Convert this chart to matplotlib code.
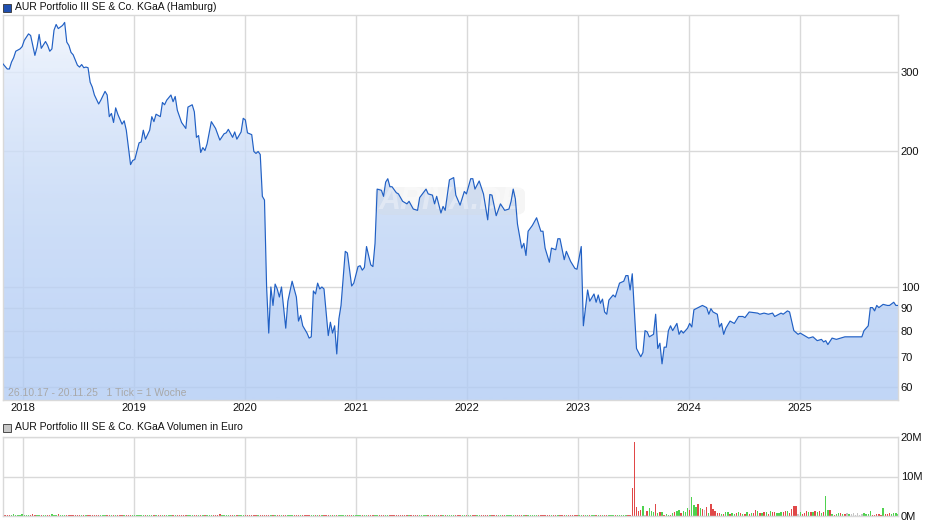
import numpy as np
import pandas as pd
import matplotlib
matplotlib.use('Agg')
import matplotlib.pyplot as plt
import matplotlib.dates as mdates
from matplotlib.patches import Rectangle, Polygon, FancyBboxPatch
from matplotlib.ticker import FixedLocator, NullLocator

plt.rcParams['font.family'] = ['Liberation Sans', 'DejaVu Sans']

start = pd.Timestamp('2017-10-26')
end = pd.Timestamp('2025-11-20')

# Kurs (Wochen seit 26.10.17, Euro)
weeks = [0, 2, 3, 4, 5, 6, 8, 9, 10, 12, 13, 15, 16, 17, 18, 20, 21, 22, 23, 24, 25, 26, 28, 29, 30,
         31, 32, 33, 35, 36, 37, 38, 39, 40, 41, 42, 43, 45, 46, 48, 49, 50, 51, 52, 53, 54, 55, 56,
         57, 58, 60, 61, 62, 64, 65, 66, 67, 69,
         70, 71, 72, 74, 75, 76, 77, 79, 80, 81, 82, 84, 86, 87, 89, 90, 91, 92, 93, 94, 95, 96, 98,
         100, 102, 104, 105, 106, 108, 109, 110, 112, 113, 114, 115, 117, 118, 119, 120, 121, 122,
         123, 124, 125, 126, 127, 128, 129, 130, 131, 133, 134, 136, 138, 139,
         140, 141, 143, 144, 145, 146, 147, 148, 149, 150, 151, 153, 154, 155, 156, 157, 158, 159,
         161, 162, 164, 165, 167, 168, 169, 170, 171, 173, 174, 175, 176, 178, 179, 180, 181, 182,
         183, 185, 186, 188, 190, 191, 193, 195, 196, 199, 200, 202, 203, 204, 206, 207, 208,
         210, 212, 213, 215, 217, 218, 220, 221, 222, 224, 226, 228, 229, 230, 232, 234, 236, 238,
         239, 240, 241, 242, 244, 245, 246, 247, 249, 251, 253, 254, 255, 257, 258, 260, 261, 262,
         264, 265, 267, 269, 270, 272, 273, 275, 276, 278, 279, 280,
         281, 282, 283, 284, 285, 287, 288, 290, 292, 293, 294, 295, 296, 298, 300, 301, 302, 303,
         304, 306, 307, 308, 309, 310, 311, 312, 313, 314, 315, 317, 318, 319, 320, 322, 323, 324,
         325, 327, 329, 331, 332, 333, 334, 336, 337, 338, 339, 340, 342, 344, 346, 348, 349, 351,
         355, 356, 358, 360, 362, 363, 366, 367, 369, 370, 372, 374, 375, 377, 379, 381, 383, 385,
         386, 387, 388, 390, 392, 394, 396, 398, 401, 404, 405, 407, 408, 409, 410, 411, 412, 414,
         416, 417, 419, 420, 421]
prices = [313, 305, 305, 316, 323, 334, 338, 342, 353, 365, 362, 327, 341, 364, 339, 351, 344, 334, 338, 372, 383, 375, 381, 387, 350,
          344, 332, 328, 311, 308, 312, 307, 308, 307, 285, 278, 267, 255, 260, 272, 267, 239, 243, 232, 250, 242, 236, 230,
          234, 223, 187, 191, 192, 209, 210, 223, 213, 223,
          239, 233, 242, 239, 257, 254, 260, 267, 258, 265, 247, 232, 225, 251, 254, 245, 215, 217, 199, 204, 201, 208, 233,
          225, 212, 219, 220, 224, 215, 221, 213, 221, 237, 235, 220, 218, 200, 198, 200, 197, 159,
          156, 100, 79, 100, 91, 101.5, 99, 95, 100, 81, 93, 103, 95, 84,
          86.5, 82, 79, 77, 77.5, 98, 96.5, 102, 99, 100, 99, 78, 83.5, 79, 82, 71, 85, 91,
          120, 119, 100.5, 102, 111, 111.5, 109, 110.5, 123, 112, 111, 125, 165, 164, 159, 171, 174, 167,
          167, 162, 161, 155, 153, 155, 149, 148, 158, 165, 161, 160, 153, 159, 146, 151, 148,
          173, 175, 160, 152, 163, 161, 174, 174, 165, 172, 161, 141, 160.5, 160, 144, 153, 148, 149,
          155, 165, 157, 138, 122, 125, 117.5, 133, 137, 142.5, 133, 133, 122, 113.5, 122, 121, 128, 128,
          115, 120, 114, 110, 109.5, 123, 82, 98.5, 93, 96.5, 92.5, 96,
          92, 94, 88, 87, 93.5, 96, 95, 102, 103, 106, 106, 98.5, 107, 73, 70, 71.5, 80, 79.5,
          77.5, 78.5, 87, 73, 75, 67.5, 73.5, 73.5, 80, 82, 80, 83, 78.5, 80, 79, 81, 83, 81.5,
          89, 90, 91, 90, 87, 89.5, 88, 87, 81.5, 83, 78.5, 81, 84, 83, 86, 86, 85.5, 88,
          87.5, 87, 87.5, 87, 87.5, 86, 87.5, 87, 88.5, 88, 80, 78.5, 79, 78, 77, 77.5, 76, 76.5,
          75.5, 76, 74.5, 77, 76.5, 77, 77.5, 77.5, 77.5, 77.5, 80, 82, 90, 90, 88.5, 91, 90, 91.5,
          91, 91, 92.5, 91, 91]

# Volumen in Mio. Euro, Wochen 0..295
vol_early = [.2, .15, .3, .25, .2, .4, .3, .2, .35, .5, .3, .25, .2, .3, .45, .3,
             .25, .2, .3, .2, .15, .25, .3, .5, .35, .2, .4, .3, .2, .25, .3, .2,
             .15, .2, .3, .25, .2, .15, .2, .3, .25, .2, .3, .2, .15, .2, .25, .2,
             .2, .15, .2, .25, .3, .2, .15, .2, .25, .2, .15, .2, .3, .2, .25, .15,
             .2, .25, .15, .2, .3, .2, .15, .2, .2, .25, .15, .2, .2, .15, .25, .2,
             .15, .2, .2, .25, .2, .15, .2, .3, .2, .15, .2, .25, .2, .15, .2, .2,
             .3, .25, .35, .2, .25, .3, .4, .2, .25, .3, .2, .25, .2, .3, .25, .2,
             .2, .15, .25, .2, .3, .2, .25, .2, .15, .2, .25, .2, .2, .15, .2, .25,
             .15, .2, .25, .2, .15, .2, .2, .25, .15, .2, .2, .15, .25, .2, .15, .2,
             .2, .15, .2, .25, .2, .15, .2, .2, .15, .25, .2, .15, .2, .2, .25, .15,
             .15, .2, .2, .15, .25, .2, .15, .2, .2, .15, .2, .25, .2, .15, .2, .2,
             .2, .15, .2, .2, .15, .25, .2, .15, .2, .2, .15, .2, .25, .2, .15, .2,
             .15, .2, .2, .15, .2, .25, .2, .15, .2, .2, .15, .2, .2, .15, .25, .2,
             .2, .15, .2, .2, .25, .2, .15, .2, .2, .15, .2, .2, .25, .15, .2, .2,
             .15, .2, .25, .2, .15, .2, .2, .15, .2, .25, .2, .15, .2, .2, .15, .2,
             .2, .15, .2, .2, .15, .25, .2, .15, .2, .2, .15, .2, .25, .2, .15, .2,
             .15, .2, .2, .15, .2, .2, .25, .15, .2, .2, .15, .2, .2, .25, .15, .2,
             .2, .15, .2, .2, .15, .2, .25, .2, .15, .2, .2, .15, .2, .2, .15, .25,
             .2, .15, .2, .2, .25, .2, .15, .2]

# Volumen ab Woche 296 (Mio. Euro)
vol_late = [7.2, 18.7, 2.3, 1.3, 1.5, 2.5, 0.3, 1.3, 1.9, 1.3,
            1.0, 3.0, 0.8, 1.0, 1.0, 0.3, 0.5, 0.35, 0.35, 0.8,
            1.0, 1.35, 1.5, 0.75, 1.3, 0.9, 2.0, 1.6, 4.8, 2.8,
            2.4, 3.0, 2.0, 1.8, 1.5, 2.3, 0.8, 3.0, 1.8, 1.3,
            0.75, 0.75, 0.5, 0.5, 1.0, 1.0, 0.5, 0.75, 0.6, 0.75,
            1.0, 0.7, 0.5, 0.5, 1.0, 0.5, 0.75, 0.75, 1.5, 1.3,
            0.75, 0.75, 1.0, 1.0, 0.5, 1.3, 1.0, 1.0, 0.75, 0.75,
            1.0, 1.0, 1.3, 1.3, 0.75, 1.8, 2.5, 2.5, 0.5, 1.0,
            0.5, 0.75, 1.3, 1.0, 1.0, 1.0, 1.3, 1.0, 1.3, 0.75,
            1.0, 5.1, 1.5, 1.5, 0.5, 0.3, 0.5, 0.75, 0.75, 0.5,
            0.5, 0.75, 0.5, 0.5, 0.75, 0.3, 0.75, 0.3, 0.5, 0.75,
            0.5, 0.5, 1.3, 0.3, 0.3, 0.5, 0.5, 0.3, 2.0, 0.5,
            0.5, 0.75, 0.5, 0.75, 0.75, 0.5, 1.0]
# r = fallend, g = steigend, n = unverändert
late_codes = ['r', 'r', 'r', 'r', 'r', 'g', 'n', 'r', 'g', 'g',
              'g', 'r', 'g', 'r', 'g', 'r', 'g', 'g', 'r', 'g',
              'r', 'g', 'g', 'r', 'g', 'g', 'g', 'r', 'g', 'g',
              'g', 'r', 'g', 'r', 'n', 'r', 'g', 'r', 'r', 'r',
              'r', 'r', 'g', 'r', 'g', 'g', 'r', 'g', 'g', 'r',
              'g', 'r', 'g', 'r', 'g', 'r', 'g', 'r', 'r', 'g',
              'r', 'g', 'r', 'g', 'r', 'g', 'r', 'r', 'g', 'g',
              'g', 'r', 'r', 'g', 'r', 'r', 'r', 'r', 'n', 'g',
              'r', 'r', 'r', 'g', 'r', 'g', 'r', 'g', 'r', 'g',
              'r', 'g', 'g', 'r', 'g', 'r', 'g', 'g', 'r', 'g',
              'r', 'n', 'g', 'n', 'n', 'n', 'n', 'n', 'n', 'g',
              'g', 'g', 'g', 'r', 'r', 'r', 'r', 'r', 'g', 'r',
              'r', 'r', 'g', 'g', 'g', 'g', 'r']

years = [2018, 2019, 2020, 2021, 2022, 2023, 2024, 2025]
price_ticks = [60, 70, 80, 90, 100, 200, 300]

line_col = '#2160c4'
grid_col = '#d9d9d9'
green = '#4fd24f'
red = '#e04848'
grey = '#c4c4c4'

dates = start + pd.to_timedelta(np.array(weeks) * 7, unit='D')
x = mdates.date2num(dates)

fig = plt.figure(figsize=(9.4, 5.26), dpi=100)
W, H = 940, 526
ax = fig.add_axes([3 / W, 1 - 400 / H, 895 / W, 385 / H])
axv = fig.add_axes([3 / W, 1 - 516 / H, 895 / W, 79 / H])

x0, x1 = mdates.date2num(start), mdates.date2num(end)
ymin, ymax = 56.1, 402

ax.set_yscale('log')
ax.set_xlim(x0, x1)
ax.set_ylim(ymin, ymax)

# Verlaufsfüllung unter der Kurve (oben hell, unten blau)
grad = np.linspace(0, 1, 256).reshape(-1, 1)
cmap = matplotlib.colors.LinearSegmentedColormap.from_list('g', ['#f3f7fe', '#b2ccf4'])
img = ax.imshow(grad, extent=[x0, x1, ymin, ymax], origin='upper', aspect='auto', cmap=cmap,
                alpha=0.8, zorder=1, interpolation='bilinear')
poly_xy = np.column_stack([np.r_[x[0], x, x[-1]], np.r_[ymin, prices, ymin]])
poly = Polygon(poly_xy, closed=True, transform=ax.transData, facecolor='none', edgecolor='none')
ax.add_patch(poly)
img.set_clip_path(poly)
ax.set_xlim(x0, x1)
ax.set_ylim(ymin, ymax)

ax.plot(x, prices, color=line_col, lw=0.85, zorder=3)

year_x = [mdates.date2num(pd.Timestamp(f'{y}-01-01')) for y in years]
for a in (ax, axv):
    a.xaxis.set_major_locator(FixedLocator(year_x))
    a.xaxis.set_minor_locator(NullLocator())
    a.grid(True, color=grid_col, lw=1, zorder=0)
    a.set_axisbelow(True)
    for s in a.spines.values():
        s.set_color(grid_col)
        s.set_linewidth(1)
    a.tick_params(length=0, labelsize=8, colors='#111111')
    a.yaxis.tick_right()

ax.yaxis.set_major_locator(FixedLocator(price_ticks))
ax.yaxis.set_minor_locator(NullLocator())
ax.set_yticklabels([str(t) for t in price_ticks])
ax.tick_params(axis='y', pad=2)
ax.set_xticks(year_x)
ax.set_xticklabels([str(y) for y in years])
ax.tick_params(axis='x', pad=2)

ax.text(0.0056, 0.004, '26.10.17 - 20.11.25   1 Tick = 1 Woche', transform=ax.transAxes,
        fontsize=7.5, color='#a8a8a8', va='bottom', ha='left', zorder=5)

# Wasserzeichen (unter der Kurslinie)
wm = FancyBboxPatch((375 / W, 1 - 215 / H), 150 / W, 28 / H, transform=fig.transFigure,
                    boxstyle='round,pad=0,rounding_size=0.012', facecolor='#d8d8d8',
                    edgecolor='none', alpha=0.25, zorder=2)
ax.add_artist(wm)
ax.text(450 / W, 1 - 201 / H, 'ARIVA.DE', transform=fig.transFigure, fontsize=22,
        fontweight='bold', fontstyle='italic', color='white', alpha=0.35,
        ha='center', va='center', zorder=2)

# Volumen
vol_weeks_early = np.arange(len(vol_early))
vol_weeks_late = 296 + np.arange(len(vol_late))
wk_all = np.arange(0, 422)
wk_price = np.exp(np.interp(wk_all, weeks, np.log(prices)))
chg = np.diff(np.r_[wk_price[0], wk_price])
cols_early = [green if c > 0 else red for c in chg[:len(vol_early)]]
dir_map = {'r': red, 'g': green, 'n': grey}
cols_late = [dir_map[c] for c in late_codes]

vx_e = mdates.date2num(start + pd.to_timedelta(vol_weeks_early * 7, unit='D'))
vx_l = mdates.date2num(start + pd.to_timedelta(vol_weeks_late * 7, unit='D'))
axv.bar(vx_e, vol_early, width=4.5, color=cols_early, zorder=2)
axv.bar(vx_l, vol_late, width=4.5, color=cols_late, zorder=2)
axv.set_xlim(x0, x1)
axv.set_ylim(0, 20)
axv.set_yticks([0, 10, 20])
axv.set_yticklabels(['0M', '10M', '20M'])
axv.tick_params(axis='y', pad=2)
axv.set_xticklabels([])

# Überschriften mit Legendenkästchen
fig.patches.append(Rectangle((3 / W, 1 - 12 / H), 8 / W, 8 / H, transform=fig.transFigure,
                             facecolor='#1f4fb0', edgecolor='#333333', lw=0.6))
fig.text(15 / W, 1 - 7.5 / H, 'AUR Portfolio III SE & Co. KGaA (Hamburg)', fontsize=7.5,
         va='center', ha='left', color='#111111')
fig.patches.append(Rectangle((3 / W, 1 - 432 / H), 8 / W, 8 / H, transform=fig.transFigure,
                             facecolor='#c8c8c8', edgecolor='#333333', lw=0.6))
fig.text(15 / W, 1 - 427.5 / H, 'AUR Portfolio III SE & Co. KGaA Volumen in Euro', fontsize=7.5,
         va='center', ha='left', color='#111111')

fig.savefig('out.png', dpi=100)
